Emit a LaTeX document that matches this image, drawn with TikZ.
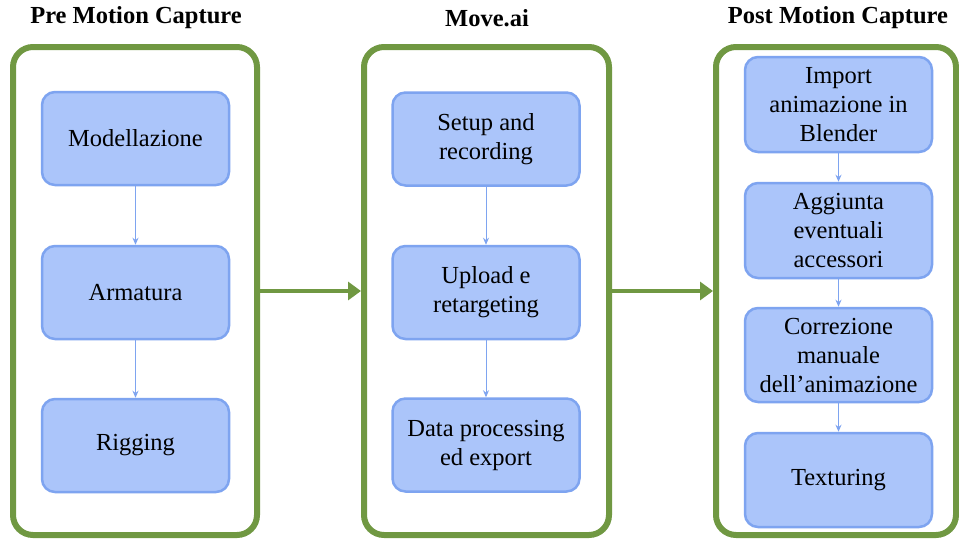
\documentclass[tikz,border=0pt]{standalone}
\usepackage{fontspec}
\setmainfont{Liberation Serif}
\newfontfamily\tmsfont{Liberation Serif}
\usetikzlibrary{arrows.meta}
\definecolor{grn}{RGB}{112,152,66}
\definecolor{bfill}{RGB}{171,197,250}
\definecolor{bline}{RGB}{126,164,240}
\begin{document}
\begin{tikzpicture}[x=1pt,y=1pt,
  container/.style={draw=grn, line width=6pt, rounded corners=20pt, fill=white},
  stepbox/.style={draw=bline, fill=bfill, line width=2.5pt, rounded corners=13pt,
    minimum width=187pt, minimum height=93pt, align=center, inner sep=2pt,
    font=\tmsfont\fontsize{24.5}{29}\selectfont},
  title/.style={font=\tmsfont\fontsize{24.5}{29}\selectfont\bfseries},
  flow/.style={draw=bline, line width=1pt, -{Stealth[length=7pt,width=6pt]}},
  bigflow/.style={draw=grn, line width=3.5pt, -{Triangle[length=13pt,width=18pt]}}]
\useasboundingbox (0,0) rectangle (959,-542);
% titles
\node[title] (t1) at (136,-18) {Pre Motion Capture};
\node[title] (t2) at (487,-18) {Move.ai};
\node[title] (t3) at (838,-18) {Post Motion Capture};
% containers
\node[container, minimum width=244pt, minimum height=488pt] (c1) at (135,-291) {};
\node[container, minimum width=245pt, minimum height=488pt] (c2) at (486.5,-291) {};
\node[container, minimum width=240pt, minimum height=488pt] (c3) at (836,-291) {};
% left
\node[stepbox] (a1) at (135.5,-138.5) {Modellazione};
\node[stepbox] (a2) at (135.5,-292.5) {Armatura};
\node[stepbox] (a3) at (135.5,-445.5) {Rigging};
% middle
\node[stepbox] (b1) at (486,-139) {Setup and\\recording};
\node[stepbox] (b2) at (486,-292.5) {Upload e\\retargeting};
\node[stepbox] (b3) at (486,-445) {Data processing\\ed export};
% right
\node[stepbox, minimum height=95pt] (d1) at (838.5,-104.5) {Import\\animazione in\\Blender};
\node[stepbox, minimum height=95pt] (d2) at (838.5,-230.5) {Aggiunta\\eventuali\\accessori};
\node[stepbox, minimum height=94pt] (d3) at (838.5,-355) {Correzione\\manuale\\dell’animazione};
\node[stepbox, minimum height=94pt] (d4) at (838.5,-480) {Texturing};
% arrows
\draw[flow] (a1) -- (a2);
\draw[flow] (a2) -- (a3);
\draw[flow] (b1) -- (b2);
\draw[flow] (b2) -- (b3);
\draw[flow] (d1) -- (d2);
\draw[flow] (d2) -- (d3);
\draw[flow] (d3) -- (d4);
\draw[bigflow] (c1.east) -- (c2.west);
\draw[bigflow] (c2.east) -- (c3.west);
\end{tikzpicture}
\end{document}
